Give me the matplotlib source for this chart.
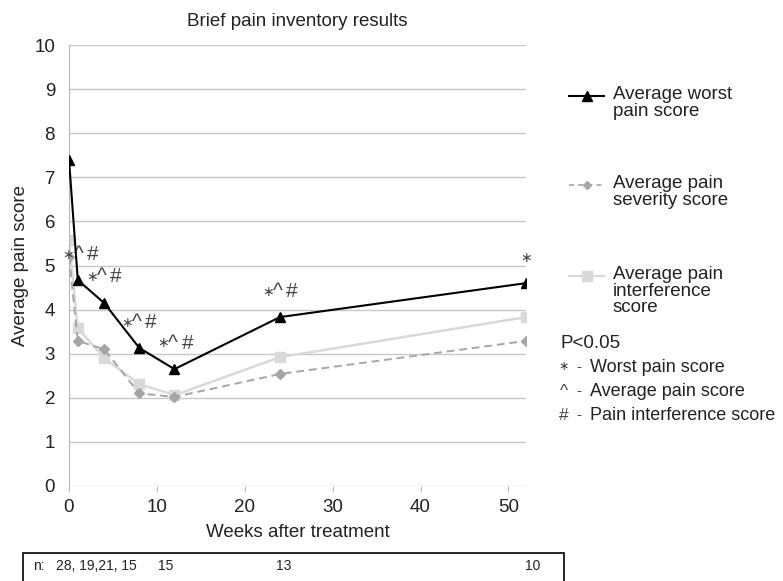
import matplotlib
matplotlib.use("Agg")
import matplotlib.pyplot as plt
from matplotlib.lines import Line2D
from matplotlib.patches import Rectangle
from matplotlib import font_manager
from matplotlib.transforms import offset_copy

plt.rcParams['font.family'] = ['Liberation Sans', 'DejaVu Sans']
W, H = 783, 581

weeks = [0, 1, 4, 8, 12, 24, 52]
worst = [7.4, 4.67, 4.15, 3.13, 2.65, 3.83, 4.6]
severity = [5.2, 3.29, 3.1, 2.1, 2.02, 2.54, 3.29]
interference = [5.58, 3.58, 2.9, 2.31, 2.06, 2.92, 3.83]

sig_labels = ["*^#", "*^#", "*^#", "*^#", "*^#", "*"]
sig_pos = [(1.4, 5.24), (4.1, 4.74), (8.1, 3.70), (12.2, 3.24), (24.1, 4.40), (52, 5.17)]

n_labels = ["n:", "28, 19,21, 15", "15", "13", "10"]

fig = plt.figure(figsize=(W / 100, H / 100), dpi=100)
ax = fig.add_axes([69 / W, 1 - 486 / H, (526 - 69) / W, (486 - 45) / H])

ax.plot(weeks, interference, color='#d9d9d9', lw=1.8, marker='s', ms=7, zorder=2)
ax.plot(weeks, severity, color='#a6a6a6', lw=1.4, ls=(0, (4, 2.5)), marker='D', ms=5.5, zorder=3)
ax.plot(weeks, worst, color='black', lw=1.5, marker='^', ms=7.5, zorder=4)


def sig_mark(x, y, label):
    """Draw a significance marker string glyph by glyph around (x, y)."""
    if label == "*":
        offsets = {"*": 0}
    else:
        offsets = {"*": -13, "^": -3, "#": 11}
    for ch in label:
        tr = offset_copy(ax.transData, fig=fig, x=offsets[ch], y=0, units='dots')
        if ch == "*":
            ax.text(x, y, "\u2217", transform=tr, ha='center', va='center',
                    fontsize=10, family=['DejaVu Sans'], color='#444444', clip_on=False)
        else:
            ax.text(x, y, ch, transform=tr, ha='center', va='center',
                    fontsize=15, color='#444444', clip_on=False)


for lab, (xx, yy) in zip(sig_labels, sig_pos):
    sig_mark(xx, yy, lab)

ax.set_xlim(0, 52)
ax.set_ylim(0, 10)
ax.set_yticks(range(0, 11))
ax.set_xticks([0, 10, 20, 30, 40, 50])
ax.grid(axis='y', color='#c8c8c8', lw=1)
ax.set_axisbelow(True)
for s in ['top', 'right', 'bottom']:
    ax.spines[s].set_visible(False)
ax.spines['left'].set_color('#b8b8b8')
ax.tick_params(axis='y', length=0, labelsize=13.5, pad=10, labelcolor='#222222')
ax.tick_params(axis='x', length=4, color='#b8b8b8', labelsize=13.5, pad=5, labelcolor='#222222')
ax.set_ylabel("Average pain score", fontsize=13.5, labelpad=4, color='#222222')
ax.set_xlabel("Weeks after treatment", fontsize=13.5, labelpad=6, color='#222222')
ax.set_title("Brief pain inventory results", fontsize=13.5, pad=14, color='#222222')


# Legend entries on the right
def handle(y_px, color, ls, marker, ms, lw):
    y = 1 - y_px / H
    fig.add_artist(Line2D([569 / W, 604 / W], [y, y], color=color, ls=ls, lw=lw,
                          transform=fig.transFigure))
    fig.add_artist(Line2D([586.5 / W], [y], color=color, marker=marker, ms=ms,
                          transform=fig.transFigure))


handle(96, 'black', '-', '^', 6.5, 1.5)
handle(185, '#a6a6a6', (0, (3, 2.5)), 'D', 4.5, 1.2)
handle(276, '#d9d9d9', '-', 's', 7, 1.6)

leg_kw = dict(fontsize=13.5, va='top', ha='left', linespacing=0.98, color='#222222')
fig.text(613 / W, 1 - 86 / H, "Average worst\npain score", **leg_kw)
fig.text(613 / W, 1 - 175 / H, "Average pain\nseverity score", **leg_kw)
fig.text(613 / W, 1 - 266 / H, "Average pain\ninterference\nscore", **leg_kw)

fig.text(560 / W, 1 - 343 / H, "P<0.05", fontsize=13.5, va='center', ha='left', color='#222222')
key_sym = ["\u2217", "^", "#"]
key_txt = ["Worst pain score", "Average pain score", "Pain interference score"]
key_y = [367, 391, 415]
for sym, txt, yp in zip(key_sym, key_txt, key_y):
    if sym == "\u2217":
        fig.text(564 / W, 1 - yp / H, sym, fontsize=9, va='center', ha='center',
                 family=['DejaVu Sans'], color='#444444')
    else:
        fig.text(564 / W, 1 - yp / H, sym, fontsize=12.5, va='center', ha='center',
                 color='#444444')
    fig.text(579 / W, 1 - yp / H, "-", fontsize=11, va='center', ha='center', color='#444444')
    fig.text(590 / W, 1 - yp / H, txt, fontsize=13, va='center', ha='left', color='#222222')

# Sample size table beneath the plot
fig.add_artist(Rectangle((23 / W, -0.01), (564 - 23) / W, (H - 553) / H + 0.01,
                         transform=fig.transFigure, fill=False, ec='black', lw=1.2))
narrow = ['Liberation Sans Narrow', 'Liberation Sans']
try:
    font_manager.findfont('Liberation Sans Narrow', fallback_to_default=False)
except Exception:
    narrow = ['Liberation Sans']
n_x = [33, 56, 158, 276, 525]
for lab, px in zip(n_labels, n_x):
    fig.text(px / W, 1 - 566 / H, lab, fontsize=10, va='center', ha='left',
             family=narrow, color='#222222')

fig.savefig("out.png", dpi=100)
